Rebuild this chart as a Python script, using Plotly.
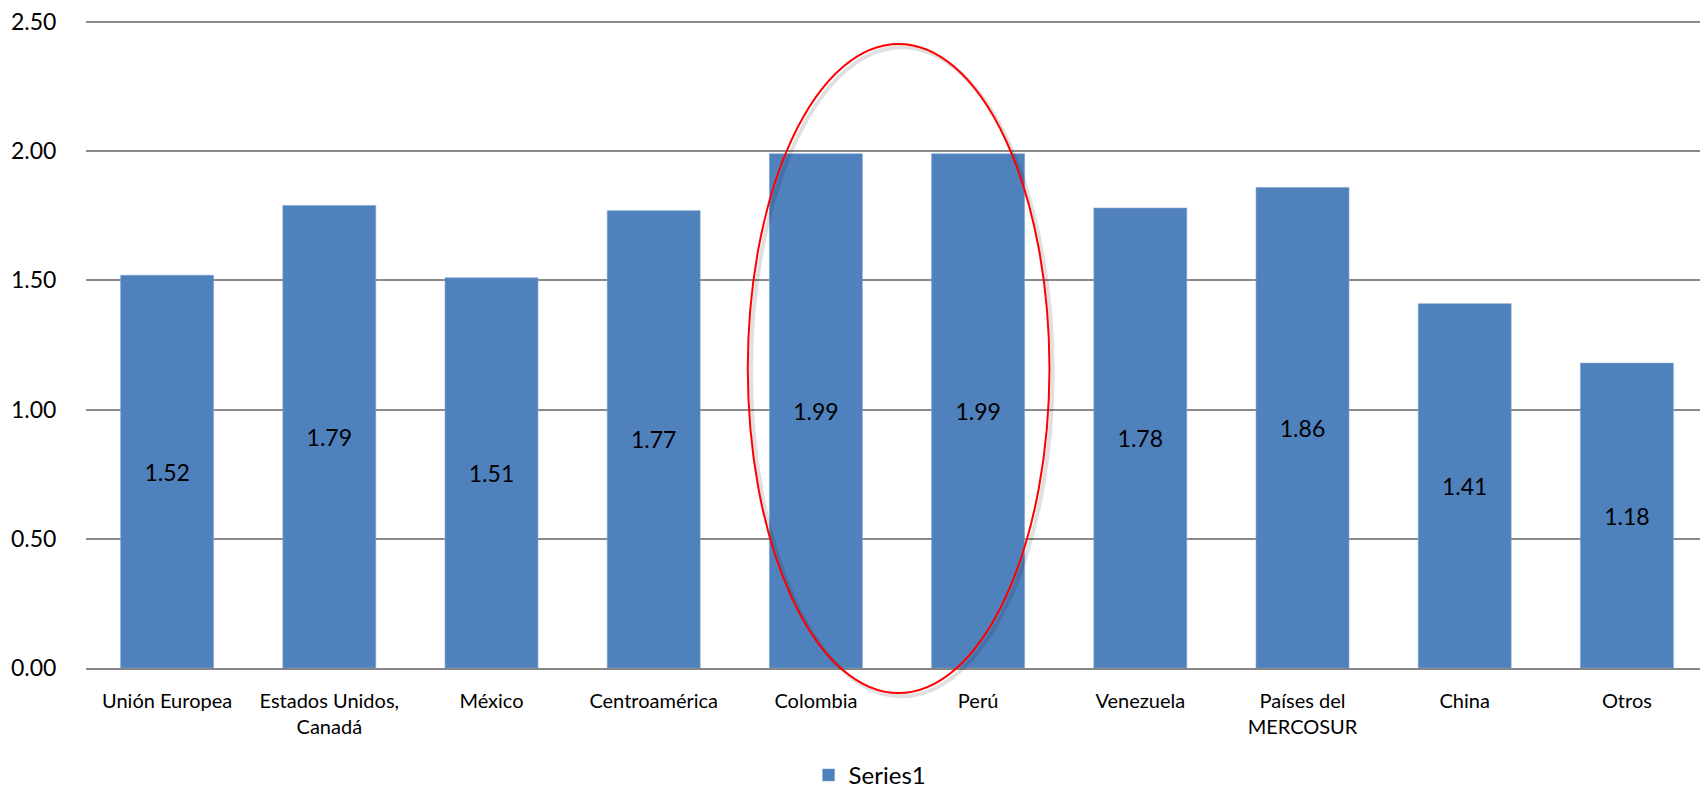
import plotly.graph_objects as go

categories = ["Unión Europea", "Estados Unidos,<br>Canadá", "México", "Centroamérica",
              "Colombia", "Perú", "Venezuela", "Países del<br>MERCOSUR", "China", "Otros"]
values = [1.52, 1.79, 1.51, 1.77, 1.99, 1.99, 1.78, 1.86, 1.41, 1.18]
series_name = "Series1"
y_ticks = [0.0, 0.5, 1.0, 1.5, 2.0, 2.5]
y_max = 2.5039  # top gridline (2.50) sits 1px inside the plot area

# highlight ellipse around Colombia & Perú (category-index / value coordinates)
ell_x0, ell_x1 = 3.58, 5.44
ell_y0, ell_y1 = -0.097, 2.415

FONT = "Lato, 'Open Sans', sans-serif"
BAR_COLOR = "#4F81BD"

n = len(categories)
def px(xi):  # category index -> paper fraction
    return (xi + 0.5) / n
def py(yv):  # value -> paper fraction
    return yv / y_max

fig = go.Figure()
fig.add_trace(go.Bar(
    x=categories, y=values, name=series_name,
    marker=dict(color=BAR_COLOR, line=dict(color="#7FA3D0", width=0.6)),
    text=[f"{v:.2f}" for v in values],
    textposition="inside", insidetextanchor="middle",
    textfont=dict(family=FONT, size=23, color="#000000"),
    showlegend=True,
))

# shadow + ellipse (paper coords so it is not clipped at the axis)
fig.add_shape(type="circle", xref="paper", yref="paper",
              x0=px(ell_x0) + 0.002, x1=px(ell_x1) + 0.002,
              y0=py(ell_y0) - 0.005, y1=py(ell_y1) - 0.005,
              line=dict(color="rgba(0,0,0,0.12)", width=4), layer="above")
fig.add_shape(type="circle", xref="paper", yref="paper",
              x0=px(ell_x0), x1=px(ell_x1), y0=py(ell_y0), y1=py(ell_y1),
              line=dict(color="#FF0000", width=2), layer="above")

# page body has an 8px margin, so the figure is offset by 8px
fig.update_layout(
    width=1700, height=786,
    margin=dict(l=78, r=0, t=13, b=126, autoexpand=False),
    paper_bgcolor="white", plot_bgcolor="white",
    bargap=0.427,
    font=dict(family=FONT, color="#000000"),
    legend=dict(orientation="h", x=0.4455, xanchor="left", y=-0.166, yanchor="middle",
                font=dict(family=FONT, size=24), itemwidth=30,
                bgcolor="rgba(0,0,0,0)"),
    xaxis=dict(
        type="category", showgrid=False, automargin=False,
        showline=True, linecolor="#868686", linewidth=2.2,
        ticks="outside", ticklen=0, ticklabelstandoff=14,
        tickfont=dict(family=FONT, size=20, color="#000000"),
        tickangle=0,
    ),
    yaxis=dict(
        range=[0, y_max], tickvals=y_ticks, ticktext=[f"{t:.2f}" for t in y_ticks],
        showgrid=True, gridcolor="#8A8A8A", gridwidth=1.6, automargin=False,
        zeroline=False, showline=False, ticklabeloverflow="allow",
        ticks="outside", ticklen=0, ticklabelstandoff=24,
        tickfont=dict(family=FONT, size=23, color="#000000"),
    ),
)

fig.write_html("out.html")
